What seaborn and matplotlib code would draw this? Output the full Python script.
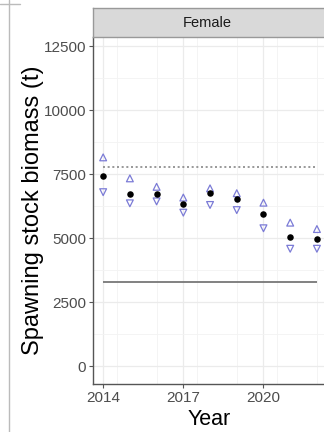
import matplotlib
matplotlib.use("Agg")
import matplotlib.pyplot as plt
import seaborn as sns
import pandas as pd
from matplotlib.lines import Line2D
from matplotlib.ticker import MultipleLocator

years = [2014, 2015, 2016, 2017, 2018, 2019, 2020, 2021, 2022]
estimate = [7430, 6710, 6720, 6330, 6750, 6510, 5940, 5050, 4950]
upper = [8150, 7330, 7000, 6580, 6940, 6750, 6380, 5600, 5350]
lower = [6790, 6355, 6430, 5990, 6290, 6090, 5380, 4580, 4580]
target_ref = 7785
limit_ref = 3290
panel_title = "Female"
x_ticks = [2014, 2017, 2020]
y_ticks = [0, 2500, 5000, 7500, 10000, 12500]

sns.set_theme(style="whitegrid")
plt.rcParams['font.family'] = ['Liberation Sans', 'DejaVu Sans']

W, H = 324, 432
fig = plt.figure(figsize=(W / 100, H / 100), dpi=100)

def px(l, t, r, b):
    return [l / W, 1 - b / H, (r - l) / W, (b - t) / H]

ax = fig.add_axes(px(93, 37, 326, 384))
df = pd.DataFrame({"Year": years, "est": estimate, "up": upper, "lo": lower})

blue = "#7b7bd6"
sns.scatterplot(data=df, x="Year", y="up", marker="^", s=24, facecolors="none",
                edgecolor=blue, linewidth=0.9, ax=ax, zorder=3)
sns.scatterplot(data=df, x="Year", y="lo", marker="v", s=24, facecolors="none",
                edgecolor=blue, linewidth=0.9, ax=ax, zorder=3)
sns.scatterplot(data=df, x="Year", y="est", marker="o", s=22, color="black",
                edgecolor="black", linewidth=0, ax=ax, zorder=4)

ax.hlines(target_ref, min(years), max(years), colors="#888888", linestyles=(0, (1.2, 1.6)), linewidth=1.2, zorder=2)
ax.hlines(limit_ref, min(years), max(years), colors="#777777", linewidth=1.3, zorder=2)

ax.set_xlim(2013.62, 2022.34)
ax.set_ylim(-703, 12852)
ax.set_xticks(x_ticks)
ax.set_yticks(y_ticks)
ax.xaxis.set_minor_locator(MultipleLocator(1.5))
ax.yaxis.set_minor_locator(MultipleLocator(1250))
ax.grid(which="major", color="#ebebeb", linewidth=0.9)
ax.grid(which="minor", color="#f3f3f3", linewidth=0.6)
ax.set_facecolor("white")
for s in ["top", "right"]:
    ax.spines[s].set_visible(False)
for s in ["left", "bottom"]:
    ax.spines[s].set_color("#555555")
    ax.spines[s].set_linewidth(1.0)
ax.tick_params(axis="both", which="major", length=3, width=0.8, color="#555555",
               labelsize=11, labelcolor="#4d4d4d", pad=2, left=True, bottom=True)
ax.tick_params(which="minor", length=0)
ax.set_xlabel("Year", fontsize=15.5, color="black", labelpad=3)
ax.set_ylabel("Spawning stock biomass (t)", fontsize=17, color="black", labelpad=0)

sax = fig.add_axes(px(93, 8, 326, 37))
sax.set_facecolor("#d9d9d9")
sax.set_xticks([]); sax.set_yticks([])
for s in sax.spines.values():
    s.set_color("#999999")
    s.set_linewidth(1.0)
sax.text(0.49, 0.47, panel_title, ha="center", va="center", fontsize=10.5, color="#1a1a1a",
         transform=sax.transAxes)

fig.add_artist(Line2D([9 / W, 9 / W], [0, 1], color="#bbbbbb", linewidth=1.0))
fig.add_artist(Line2D([0, 20 / W], [1 - 4 / H, 1 - 4 / H], color="#bbbbbb", linewidth=1.0))

fig.savefig("out.png", dpi=100)
